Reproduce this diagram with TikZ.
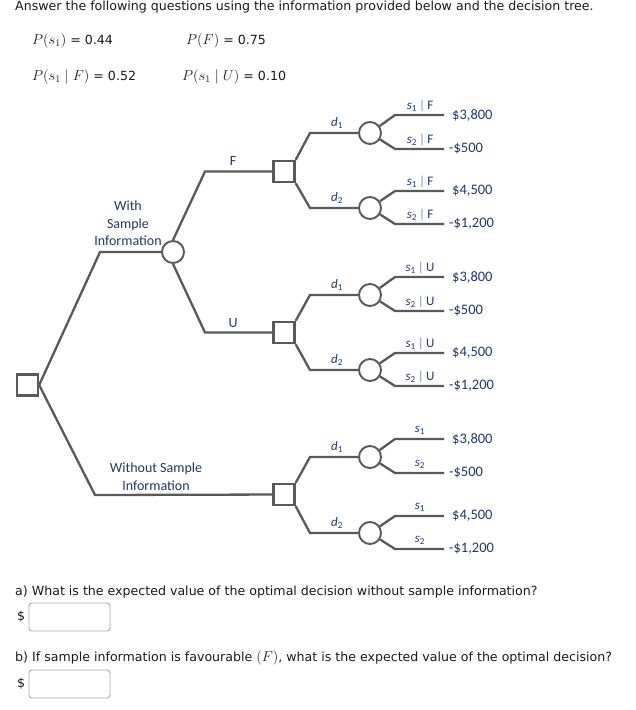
\documentclass[tikz,border=0pt]{standalone}
\usepackage[no-math]{fontspec}
\newfontfamily\qfont{DejaVu Sans}
\newfontfamily\cfont{Carlito}
\definecolor{navy}{RGB}{31,56,100}
\definecolor{lg}{RGB}{89,89,89}
\definecolor{boxg}{RGB}{170,170,170}
\newcommand\slab[2]{{\itshape s}\textsubscript{#1}\if\relax\detokenize{#2}\relax\else\,{\color{navy!60}|}\,#2\fi}
\newcommand\subtreeX[4]{%
  \node[chn] (#1a) at (370,#2) {};
  \node[chn] (#1b) at (370,#3) {};
  \draw[ln] (#1sq.north east) -- (310,#2) -- (#1a);
  \draw[ln] (#1sq.south east) -- (310,#3) -- (#1b);
  \node[lab] (#1da) at (337,#2-10) {{\itshape d}\textsubscript{1}};
  \node[lab] (#1db) at (337,#3-10) {{\itshape d}\textsubscript{2}};
  \coordinate (#1e1) at (444,#2-18);
  \coordinate (#1e2) at (444,#2+16);
  \coordinate (#1e3) at (444,#3-17);
  \coordinate (#1e4) at (444,#3+16);
  \draw[ln] (#1a) -- (395,#2-18) -- (#1e1);
  \draw[ln] (#1a) -- (395,#2+16) -- (#1e2);
  \draw[ln] (#1b) -- (395,#3-17) -- (#1e3);
  \draw[ln] (#1b) -- (395,#3+16) -- (#1e4);
  \node[lab] (#1s1) at (420,#2-27) {\slab{1}{#4}};
  \node[lab] (#1s2) at (420,#2+7) {\slab{2}{#4}};
  \node[lab] (#1s3) at (420,#3-26) {\slab{1}{#4}};
  \node[lab] (#1s4) at (420,#3+7) {\slab{2}{#4}};
  \node[pay] (#1v1) at (452,#2-18) {\$3,800};
  \node[pay] (#1v2) at (449,#2+16) {-\$500};
  \node[pay] (#1v3) at (452,#3-17) {\$4,500};
  \node[pay] (#1v4) at (449,#3+16) {-\$1,200};
}
\begin{document}
\begin{tikzpicture}[x=1pt,y=-1pt,
  ln/.style={draw=lg, line width=2.3pt, line join=miter},
  dec/.style={rectangle, draw=lg, line width=2.3pt, minimum size=21pt, inner sep=0pt, fill=white},
  chn/.style={circle, draw=lg, line width=1.9pt, minimum size=22pt, inner sep=0pt, fill=white},
  lab/.style={font=\cfont\fontsize{13}{15}\selectfont, text=navy, inner sep=0pt},
  pay/.style={font=\cfont\fontsize{14.5}{16}\selectfont, text=navy, inner sep=0pt, anchor=west},
  qt/.style={font=\qfont\fontsize{12.6}{14}\selectfont, text=black!90, inner sep=0pt, anchor=west},
  ansbox/.style={draw=boxg, line width=0.9pt, rounded corners=3pt, minimum width=81pt, minimum height=28pt, inner sep=0pt}
]
\useasboundingbox (0,0) rectangle (635,710);
% header
\node[qt] (hdr) at (15,7) {Answer the following questions using the information provided below and the decision tree.};
\node[qt] (p1) at (32,41) {{\fontsize{14}{16}\selectfont$P(s_1)$} = 0.44};
\node[qt] (p2) at (186,41) {{\fontsize{14}{16}\selectfont$P(F)$} = 0.75};
\node[qt] (p3) at (32,77) {{\fontsize{14}{16}\selectfont$P(s_1\mid F)$} = 0.52};
\node[qt] (p4) at (182,77) {{\fontsize{14}{16}\selectfont$P(s_1\mid U)$} = 0.10};
% tree
\node[dec] (root) at (27.5,385) {};
\node[chn] (si) at (173,252) {};
\node[dec] (Fsq) at (284,171.5) {};
\node[dec] (Usq) at (284,332.5) {};
\node[dec] (Wsq) at (284,494.5) {};
\draw[ln] (root.east) -- (100,252) -- (si);
\draw[ln] (root.east) -- (95,495) -- (Wsq);
\draw[ln] (si.north) -- (205,171.5) -- (Fsq);
\draw[ln] (si.south) -- (205,332.5) -- (Usq);
\node[lab, font=\cfont\fontsize{14}{16}\selectfont] (lf) at (233,161) {F};
\node[lab, font=\cfont\fontsize{14}{16}\selectfont] (lu) at (233,323) {U};
\node[lab, font=\cfont\fontsize{14}{17.5}\selectfont, align=center] (lsi) at (128,223.5) {With\\Sample\\Information};
\node[lab, font=\cfont\fontsize{14}{17.5}\selectfont, align=center] (lwi) at (156,476.5) {Without Sample\\Information};
\subtreeX{F}{133}{208}{F}
\subtreeX{U}{295}{370}{U}
\subtreeX{W}{457}{533}{}
% questions
\node[qt] (qa) at (15,592) {a) What is the expected value of the optimal decision without sample information?};
\node[qt] (da) at (17,617) {\$};
\node[ansbox] (ba) at (69.5,617) {};
\node[qt] (qb) at (15,658) {b) If sample information is favourable {\fontsize{14}{15}\selectfont$(F)$}, what is the expected value of the optimal decision?};
\node[qt] (db) at (17,684) {\$};
\node[ansbox] (bb) at (69.5,684) {};
\end{tikzpicture}
\end{document}
